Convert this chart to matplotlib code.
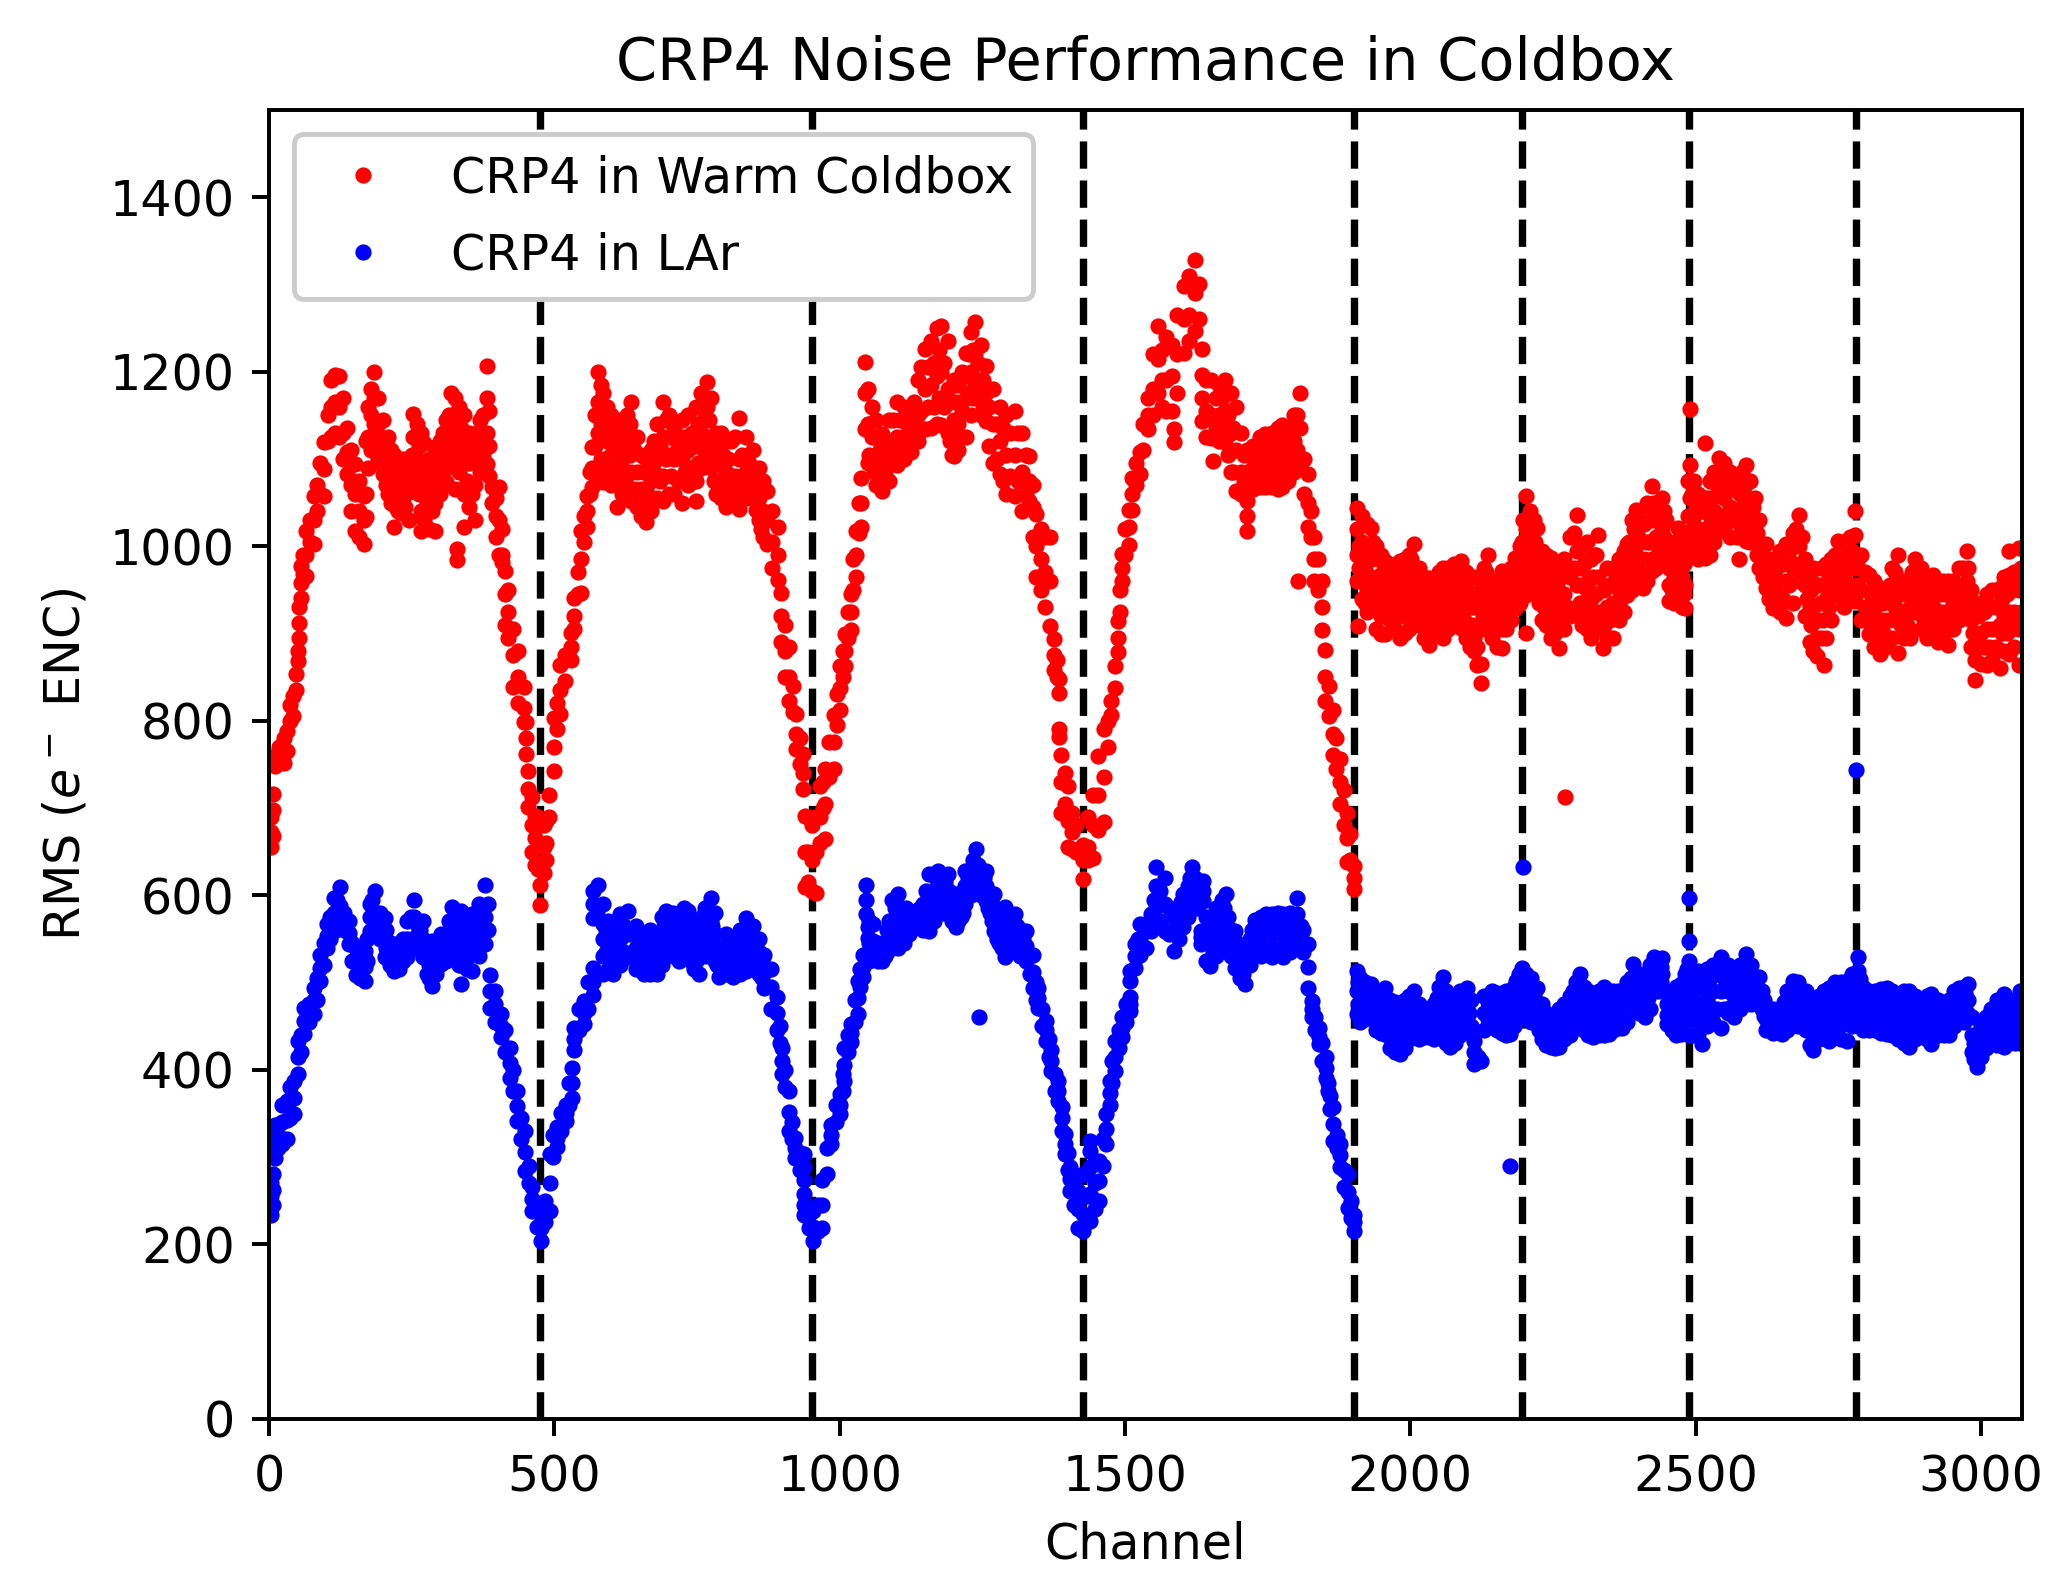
#!/usr/bin/env python3

import matplotlib
matplotlib.use('Agg')
import matplotlib.pyplot as plt

# each row: channel, then the rms values read at that channel
red_a = [
    [3,655,672,690],[7,668,698,716],[11,760,748],[18,770,752],[26,780,752],[31,788,765],[37,818,800],[42,828,805],
    [47,854,835],[50,880,868],[52,930,912,895],[56,977,958,941],[60,990,968],[65,1017,990,966],[71,1030,1005],
    [78,1058,1030,1002],[84,1070,1040],[90,1095,1060],[97,1119,1088,1058],[103,1150,1120],[109,1190,1160,1125],
    [115,1196,1165,1130],[122,1195,1160,1125],[129,1170,1130,1100],[137,1135,1108,1083],[144,1110,1070,1040],
    [150,1094,1060,1017],[158,1075,1040,1010],[166,1058,1030,1002],[170,1120,1060,1033],[174,1160,1125,1090],
    [179,1180,1150,1110],[184,1200,1170,1140,1125],[191,1170,1140,1100],[200,1145,1115,1083],[208,1125,1095,1060],
    [214,1110,1080,1050],[219,1104,1065,1022],[226,1090,1060,1040],[232,1100,1072,1038],[238,1100,1068,1045],
    [245,1095,1062,1030],[253,1152,1125,1085,1063],[260,1140,1100,1072],[266,1130,1085,1040,1017],
    [272,1118,1075,1030],[280,1100,1060,1020],[291,1114,1080,1050,1017],[300,1120,1090,1060],
    [310,1145,1115,1090,1073],[318,1175,1135,1100],[325,1170,1130,1095,1065],[333,1160,1120,1085],[329,997,984],
    [341,1150,1110,1060,1022],[350,1130,1095,1045],[360,1125,1100,1070,1030],[370,1145,1120,1085],
    [381,1206,1170,1130,1094],[386,1155,1115,1080],[391,1068,1050],[397,1055,1035,1010],[403,1068,1030,990],
    [408,1020,990,982],[413,971,945,910],[419,950,925,895],[428,905,875,839],[436,880,850,820],[447,839,815,798],
    [450,798,780,762],[454,742,722,701],[460,712,680,650],[466,691,665,635],[472,690,660,630],[475,635,612,589],
    [481,680,655,625],[485,685,660,640],[491,715,690],[500,803,770,742],[505,820,790],[510,864,835,808],
    [518,875,845],[529,900,885,870],[535,941,920,905],[541,970,945],[547,1017,985,946],[552,1035,1005],
    [557,1058,1040,1022],[562,1085,1060],[566,1114,1090,1068],[571,1150,1115,1085],[576,1200,1165,1130],
    [581,1185,1140,1100],[585,1175,1130,1073],[592,1160,1120,1080],[600,1150,1105,1070],[610,1145,1105,1073,1045],
    [618,1135,1090,1060],[628,1150,1105,1060],[635,1165,1125,1085,1052],[645,1125,1085,1045],[652,1105,1065,1035],
    [660,1100,1065,1028],[670,1110,1075,1040],[680,1140,1100,1055],[691,1165,1125,1080,1052],[700,1150,1105,1060],
    [710,1135,1100,1060],[723,1145,1100,1050],[735,1150,1110,1070],[748,1160,1115,1075,1052],[757,1175,1130,1090],
    [767,1188,1160,1125,1100],[775,1170,1125,1090],[783,1130,1095,1060],[792,1130,1095,1055],[800,1120,1085,1045],
    [810,1120,1080,1050],[823,1147,1100,1062,1043],[835,1125,1085,1055],[848,1110,1080,1055],[858,1090,1055,1030],
    [866,1075,1040,1010],[873,1063,1030,1002],[882,1040,1005,975],[892,1022,990,961],[898,946,920,890],
    [905,910,880,850],[911,884,850,823],[918,840,810],[923,808,785,767],[930,780,750],[936,762,740,722],
    [939,691,650,609],[945,690,650,615],[952,680,640,605],[958,690,650,602],[965,725,690,660],[970,730,700],
    [975,745,705,664],[982,775,735],[990,807,775,745],[995,830,795],[1000,863,838,812],[1005,880,850],
    [1009,899,880,863],[1014,925,895],[1019,945,925,904],[1024,985,950],[1028,1017,990,965],[1033,1050,1015],
    [1037,1078,1050,1022],[1044,1211,1175,1134],[1049,1180,1140,1095],[1056,1160,1125,1093],[1064,1145,1105,1070],
    [1075,1129,1095,1063],[1086,1145,1105,1075],[1100,1165,1125,1093],[1112,1160,1125,1100],[1125,1155,1130,1108],
    [1137,1190,1150,1120],[1150,1226,1180,1134],[1160,1235,1185,1135],[1170,1250,1195,1140],[1178,1252,1200,1139],
    [1189,1235,1180,1130],[1200,1190,1145,1103],[1197,1130,1105],[1208,1185,1140,1110],[1222,1221,1195,1170,1125],
    [1230,1245,1200,1150],[1238,1257,1220,1185],[1247,1230,1190,1150],[1256,1206,1175,1144],[1268,1180,1140,1095],
    [1281,1160,1120,1083],[1292,1150,1105,1060],[1307,1155,1105,1058],[1320,1130,1085,1040],[1332,1103,1075,1052],
    [1338,1070,1045,1010],[1344,1037,1000,965],[1352,1020,985,950],[1360,1010,970,930],[1369,1011,960,909],
    [1375,894,875,858],[1381,870,850],[1385,848,832],[1385,791,781],[1388,761,730,694],[1394,740,705],[1400,725,685,655],
    [1407,694,672,653],[1415,680,650],[1426,658,640,618],[1436,690,655,640],[1444,715,680,643],[1452,760,715,675],
    [1463,791,735,684],[1470,800,770],[1476,822,807],[1482,863,838],[1488,914,895,879],[1491,950,925],
    [1494,991,975,960],[1500,1020,990],[1507,1042,1022,1001],[1513,1078,1060,1042],[1520,1095,1070],
    [1526,1108,1083],[1532,1140,1110],[1541,1170,1150,1134],[1549,1220,1180,1150],[1557,1252,1215,1175],
    [1565,1225,1190,1160],[1572,1240,1190,1155],[1582,1231,1195,1155],[1586,1134,1119],[1592,1265,1220,1175],
    [1604,1298,1260,1221],[1612,1310,1265,1235],[1623,1328,1290,1247],[1630,1300,1260],[1635,1226],
    [1635,1196,1170,1144],[1642,1190,1155,1125],[1651,1190,1150,1124],[1654,1098],[1664,1185,1150,1120],
    [1676,1190,1155,1119],[1686,1175,1130,1085],[1695,1160,1110,1063],[1704,1130,1085,1060],[1713,1110,1085,1063],
    [1713,1052,1035,1017],[1725,1115,1090,1065],[1736,1125,1095,1068],[1745,1129,1100,1068],[1757,1130,1100,1068],
    [1768,1135,1100,1065],[1776,1139,1105,1068],[1786,1130,1100,1075],[1796,1150,1120,1085],[1807,1175,1135,1093],
    [1804,960],[1814,1100,1060],[1820,1083,1050,1022],[1826,1040,1010],[1832,1011,985,960],[1839,985,950],
    [1845,960,930,904],[1851,881,850,822],[1858,840,805],[1864,812,785,761],[1870,780,745],[1876,756,730,705],
    [1883,720,680],[1889,694,665,638],[1895,670,640],[1901,633,620,607],
]
red_b = [
    [1906,1044,1020,990,960],[1908,908],[1916,1035,1005,970,940],[1924,1025,990,950,925],[1931,1021,985,960,929],
    [1940,1000,965,930,905],[1948,990,955,920,899],[1955,983,950,920,899],[1964,975,945,915],[1973,980,945,905],
    [1982,983,950,920,895],[1990,985,955,925,900],[1998,990,960,925,905],[2006,1002,965,935,914],[2015,975,945,910],
    [2024,965,935,895],[2033,964,930,905,887],[2042,960,930,900],[2050,970,935,900],[2057,975,945,915,895],
    [2066,975,940,905],[2076,980,945,910],[2089,983,950,925,906],[2098,970,935,895],[2105,965,930,885],
    [2112,965,930,895,880],[2117,864,885],[2124,843,865],[2130,975,940,905],[2136,990,950,915,906],[2144,960,930,895],
    [2152,960,925,885],[2160,971,935,905,883],[2168,965,935,905],[2176,975,945,915],[2183,987,955,929],
    [2192,1000,965,935],[2198,1030,985,945],[2203,1057,1020,980,944],[2203,901],[2209,1040,990,950],
    [2216,1030,985,950],[2222,1021,985,948],[2230,995,955,915],[2238,990,950,910],[2246,987,945,905,895],
    [2254,980,940,900],[2261,975,935,905,883],[2270,985,945,905],[2280,1010,965,920],[2293,1036,995,955,922],
    [2301,1000,955,910],[2309,1005,950,905],[2316,985,940,895],[2323,990,945,905],[2329,1013,965,925,914],
    [2337,883,905],[2345,975,930,895],[2356,975,935,895],[2366,985,950,915],[2374,995,960,925],[2380,1002,975,944],
    [2388,1030,985,950],[2395,1042,1000,960],[2403,1030,985,955],[2407,952],[2415,1050,1005,960],[2423,1069,1030,985,971],
    [2431,1050,1010,975],[2442,1055,1020,987],[2448,1030,1000],[2454,975,955,937],[2462,1005,965,935],
    [2470,1021,975,941],[2476,1005,965,930],[2482,983,955,929],[2491,1157],[2491,1093,1055,1017],[2497,1075,1035,995],
    [2505,1060,1020,985],[2517,1118],[2517,1055,1020,987],[2525,1075,1035,990],[2533,1085,1040,1005],
    [2541,1101,1060,1017],[2550,1095,1055,1020],[2561,1085,1045,1010],[2572,1075,1040,1010],[2576,985],
    [2582,1085,1045,1015],[2588,1093,1050,1006],[2596,1075,1035,1005],[2604,1055,1030,1006],[2612,1030,1000,975],
    [2623,1002,975,952],[2635,985,955,929],[2648,995,960,925],[2659,1002,960,918],[2670,1015,975,935],
    [2682,1036,1000,960],[2692,985,955,920],[2700,965,930,890],[2706,975,930,880],[2712,874,895],[2720,975,935,895],
    [2725,864],[2729,980,940,895],[2738,985,950,915],[2749,1006,975,944],[2760,1005,965,930],[2770,1010,975,940],
    [2780,1040],[2780,1013,975,937],[2790,990,950,915],[2804,967,930,899],[2813,960,925,885],[2823,952,915,876],
    [2834,950,915,885],[2845,975,935,895],[2855,990,950,914],[2855,878],[2866,960,925,895],[2875,960,930,895],
    [2885,985,955,925],[2895,975,940,905],[2905,965,930,895],[2916,967,930,895],[2925,960,925,890],[2934,960,925,895],
    [2943,960,925,887],[2952,960,935,905],[2962,975,945,915],[2975,994,960,929],[2982,950,915,885],[2990,935,900,870],
    [2990,847],[3000,935,900,865],[3010,945,905,864],[3020,950,905,870],[3033,952,910,860],[3041,965,920,880],
    [3049,994],[3049,967,925,876],[3058,970,925,885],[3066,998,950,905,864],
]
red_fill = [
    [194,1125,1095],[205,1100,1070],[222,1085,1045],[235,1085,1055],[250,1105,1075],[263,1115,1060],[276,1095,1050],
    [286,1095,1040],[296,1105,1070],[305,1130,1100],[315,1150,1115],[322,1150,1110],[337,1135,1095],[346,1115,1075],
    [355,1110,1060],[365,1130,1100],[375,1150,1105],[588,1150,1100],[596,1135,1090],[605,1125,1085],[614,1115,1075],
    [623,1120,1075],[632,1140,1105],[640,1110,1065],[656,1085,1050],[665,1090,1055],[675,1120,1085],[685,1115,1075],
    [696,1145,1100],[705,1125,1080],[716,1115,1075],[729,1125,1085],[741,1130,1090],[752,1140,1095],[762,1145,1110],
    [771,1145,1105],[779,1110,1075],[788,1115,1075],[796,1105,1070],[805,1100,1065],[816,1125,1080],[829,1105,1070],
    [841,1095,1065],[853,1070,1042],[862,1060,1020],[1052,1140,1105],[1060,1125,1085],[1070,1110,1080],[1080,1120,1085],
    [1093,1145,1110],[1106,1145,1110],[1118,1140,1115],[1131,1165,1135],[1143,1205,1155],[1155,1205,1160],
    [1165,1210,1160],[1174,1225,1170],[1183,1210,1160],[1194,1165,1120],[1204,1165,1125],[1215,1200,1155],
    [1226,1220,1175],[1234,1225,1170],[1243,1210,1170],[1252,1190,1160],[1262,1160,1115],[1275,1140,1100],
    [1287,1135,1075],[1299,1130,1080],[1313,1130,1075],[1326,1105,1060],[1660,1170,1135],[1670,1170,1135],
    [1681,1150,1105],[1690,1135,1085],[1708,1105,1075],[1719,1105,1075],[1730,1110,1080],[1741,1115,1085],
    [1751,1115,1085],[1762,1115,1082],[1772,1120,1085],[1781,1120,1085],[1791,1135,1105],[1801,1150,1110],
    [1911,1000,975],[1920,975,935],[1935,1005,945],[1944,985,945],[1952,970,935],[1960,960,930],[1969,960,925],
    [1978,965,935],[1986,970,935],[1994,975,940],[2002,985,950],[2011,960,925],[2020,950,915],[2029,945,915],
    [2038,945,915],[2046,950,915],[2054,960,930],[2062,960,920],[2071,960,925],[2083,965,930],[2094,955,915],
    [2102,950,905],[2109,945,910],[2127,955,920],[2133,970,930],[2140,945,910],[2148,945,905],[2156,950,920],
    [2164,955,920],[2172,960,925],[2180,970,940],[2188,985,950],[2195,1005,965],[2206,1005,965],[2212,1015,970],
    [2219,1005,965],[2226,975,935],[2234,970,930],[2242,965,925],[2250,960,920],[2258,955,920],[2265,965,925],
    [2275,975,930],[2287,1015,975],[2297,975,935],[2305,980,930],[2312,960,920],[2320,965,925],[2326,990,945],
    [2340,950,910],[2350,955,915],[2361,965,930],[2370,975,940],[2377,985,950],[2384,1005,965],[2392,1020,975],
    [2399,1010,970],[2410,1025,985],[2419,1045,1005],[2427,1050,1005],[2436,1035,995],[2445,1040,1010],[2458,985,950],
    [2466,990,950],[2473,1000,955],[2479,980,945],[2487,1075,1035,1000],[2494,1060,1015],[2501,1045,1000],
    [2511,1040,1005],[2521,1055,1010],[2529,1055,1015],[2537,1070,1025],[2546,1080,1035],[2555,1070,1030],
    [2566,1065,1030],[2577,1060,1025],[2586,1070,1030],[2592,1055,1015],[2600,1045,1020],[2608,1015,990],[2618,990,965],
    [2629,970,940],[2641,975,945],[2654,980,940],[2664,995,955],[2676,1020,980],[2687,1010,975],[2696,970,940],
    [2703,950,910],[2715,955,915],[2723,955,915],[2734,965,930],[2744,990,960],[2754,985,950],[2765,990,950],
    [2775,995,955],[2785,985,955],[2797,970,930],[2808,945,910],[2818,935,895],[2829,935,900],[2840,955,915],
    [2850,970,930],[2860,945,910],[2870,945,910],[2880,970,940],[2890,960,925],[2900,950,915],[2910,950,915],
    [2920,945,910],[2929,945,910],[2938,945,910],[2947,945,915],[2957,950,920],[2968,975,945],[2978,975,940],
    [2986,930,900],[2995,920,885],[3005,925,885],[3015,930,885],[3026,930,885],[3037,940,900],[3045,945,900],
    [3054,950,905],[3062,960,915],[3070,975,925],
]
red_odd = [[2272, 712]]

blue_a = [
    [3,234,255,270],[7,245,262,280],[11,299,315,337],[15,310,325,337],[22,315,340,360],[31,320,342,364],[37,345,365,380],
    [43,349,368,387],[50,395,414,433],[56,420,440],[62,441,456,471],[70,455,475],[78,464,480,494],[84,480,505],
    [90,502,517,532],[96,520,545],[101,540,553,567],[107,550,575],[113,559,580,597],[119,565,595],[125,563,588,609],
    [132,560,580],[140,544,557,570],[146,525,545],[152,509,525,540],[160,505,525],[168,502,518,536],[172,525,550],
    [176,559,575,590],[181,560,595],[186,559,580,605],[194,550,580],[203,529,552,574],[211,520,545],
    [219,513,528,544],[228,515,540],[235,525,550],[242,529,550,570],[248,545,575],[254,551,575,595],[261,540,565],
    [269,529,550,570],[277,510,535],[285,496,522,548],[293,510,535],[301,521,538,555],[310,525,555],
    [320,536,560,586],[328,530,565],[336,498,520,545,582],[346,515,545,575],[355,513,545,578],[367,530,565,590],
    [379,544,575,612],[383,560,590],[387,471,490,508],[396,455,475,490],[406,437,450,464],[414,420,445],
    [422,391,408,425],[428,375,400],[434,341,358,376],[441,320,345],[449,284,306,330],[455,270,290],[461,238,252,265],
    [469,220,245],[477,204,218,234],[484,225,250],[492,238,270,303],[498,300,325],[504,311,322,334],[512,330,350],
    [520,341,350,360],[526,360,385],[531,368,385,402],[535,422,435,448],[543,445,470],[551,452,465,479],
    [559,470,500],[567,486,500,517],[567,574,590,605],[577,585,612],[586,570,590],[586,510,530,550,567],
    [594,515,545,570],[602,510,540,567],[615,520,550,578],[629,529,555,582],[643,515,540,565],[657,510,532,555],
    [668,510,535,560],[680,510,535,555],[688,520,555,575],[696,532,555,582],[707,530,560,580],[719,525,555,580],
    [727,530,560,585],[735,530,560,582],[745,515,545,570],[754,510,535,555],[764,530,560,585],[774,540,570,597],
    [781,525,555,580],[789,506,525,540],[800,510,530,555],[813,506,525,545],[825,510,535,560],[836,513,545,574],
    [848,520,545,565],[858,510,535,550],[868,494,512,532],[880,470,495,515],[891,445,465,483],[895,430,450],
    [899,395,410,425],[905,380,400],[911,330,352,376],[917,320,340],[922,299,310,322],[930,285,305],
    [938,273,288,303],[938,234,245,257],[946,218,240],[954,204,220,238],[962,215,245],[969,219,245,273],
    [977,280,310],[985,315,325,337],[993,340,360],[1001,349,360,372],[1005,375,395],[1008,387,405,425],
    [1014,420,440],[1020,432,442,452],[1026,455,480],[1032,464,482,502],[1036,495,515],[1040,506,518,532],
    [1046,578,595,612],[1050,551,563],[1052,525,545,570],[1059,529,548,567],[1067,525,545],[1075,525,535,544],
    [1083,535,560],[1092,540,570,595],[1102,540,570,601],[1112,545,575],[1122,555,575],[1134,563,572,582],
    [1146,560,590],[1157,559,590,624],[1165,570,605],[1173,590,610,628],[1181,580,610],[1189,582,603,624],
    [1196,570,595],[1204,563,582,601],[1212,575,600],[1220,590,610,628],[1230,600,625],[1239,605,628,653],
    [1248,600,625],[1257,593,610,628],[1244,460],[1263,580,600],[1270,559,580,601],[1280,545,570],[1289,529,558,586],
    [1298,535,560],[1307,540,560,578],[1316,530,555],[1326,525,542,559],[1333,510,530],[1339,494,512,532],
    [1344,480,500],[1348,471,482,494],[1355,450,470],[1361,433,445,456],[1366,415,435],[1370,399,410,422],
    [1377,375,395],[1383,364,375,387],[1389,330,345,357],[1395,303,315,326],[1400,285,305],[1404,261,275,288],
    [1410,245,270],[1417,219,240,261],[1426,215,235,255,280],[1433,225,255,280],[1439,307,318],[1439,227,258,288],
    [1447,240,270,295],[1455,250,272,295],[1461,290,320],[1467,315,332,349],[1473,360,373,387],[1478,385,410],
    [1483,399,415,433],[1489,425,445],[1495,437,448,460],[1501,455,475],[1508,467,475,483],[1508,502,513],
    [1517,517,530,544],[1522,530,550],[1527,532,550,567],[1536,540,565],[1545,559,570,578],[1550,575,595],
    [1555,586,610,632],[1562,570,605],[1570,559,590,620],[1578,555,585],[1586,536,555,574],[1594,550,585],
    [1602,563,582,601],[1610,575,610],[1617,586,610,632],[1626,585,610],[1636,593,605,616],[1633,544,552,559],
    [1642,525,550,575],[1649,519,545,574],[1660,530,560,585],[1670,545,575,595],[1677,551,575,601],[1685,530,560],
    [1692,517,540,559],[1702,505,530],[1711,498,520,544],[1719,520,550],[1727,532,550,571],[1738,530,555,575],
    [1748,535,560,578],[1758,529,555,578],[1768,535,560,580],[1777,529,555,578],[1790,535,560,580],[1802,597],
    [1802,544,560,578],[1812,535,560],[1821,494,518,544],[1827,460,470,479],[1833,445,460],[1840,429,438,448],
    [1846,410,430],[1852,391,402,414],[1855,375,385],[1860,355,370],[1865,318,338,357],[1871,310,325],[1877,288,302,315],
    [1884,265,285],[1890,242,260,280],[1896,230,250],[1902,215,225,234],
]
blue_b = [
    [1906,513,490,464],[1912,505,478,455],[1920,500,475,458],[1931,498,478,460],[1940,490,465,445],[1948,488,460,442],
    [1955,494,465,441],[1964,480,450,425],[1973,478,445,420],[1982,475,445,418],[1990,480,455,425],[1998,485,460,435],
    [2006,490,465,441],[2015,475,455,435],[2024,470,450,438],[2033,468,452,437],[2042,475,450,435],[2050,495,470,445],
    [2057,506,485,468],[2063,490,465,430],[2069,483,455,426],[2078,480,455,430],[2088,490,465,440],[2100,494,470,448],
    [2106,480,450],[2112,433,420,406],[2119,415],[2124,410],[2130,485,465,445],[2144,490,470,452],[2152,488,465,445],
    [2160,488,465,442],[2168,490,462,440],[2175,490,465,441],[2182,495,470,450],[2190,510,480,460],[2195,517,490,460],
    [2203,510,480,460],[2212,505,475,455],[2222,494,475,460],[2230,475,455,435],[2238,465,445,428],[2246,456,440,426],
    [2254,460,440,425],[2261,470,445,426],[2270,475,455,435],[2280,485,460,440],[2290,500,475,450],[2297,510,480,448],
    [2305,495,470,445],[2312,490,465,440],[2320,487,460,437],[2330,490,465,440],[2340,495,470,440],[2348,490,465,441],
    [2356,490,470,445],[2364,490,470,448],[2371,487,465,448],[2380,500,480,455],[2391,521,495,475],[2400,510,485,465],
    [2411,502,480,460],[2420,520,495,470],[2427,529,510,494],[2435,525,505,490],[2442,528,510,494],[2450,475,463,452],
    [2458,490,465,445],[2466,495,470,440],[2474,498,470,441],[2482,510,475,445],[2488,548,525,502],[2488,440],
    [2497,510,475,440],[2505,513,475,441],[2511,429,450],[2520,515,480,450],[2530,520,490,455],[2545,529,490,448],
    [2556,520,490,465],[2568,510,485,460],[2578,520,490,470],[2588,533,505,475],[2597,520,495,475],[2611,506,490,475],
    [2617,490,470],[2623,471,458,445],[2636,470,455,442],[2651,471,455,441],[2660,490,465,445],[2670,502,480,456],
    [2680,500,475,450],[2694,490,465,445],[2700,465,445,428],[2706,441,430,422],[2716,485,460,435],[2725,490,465,440],
    [2733,494,465,433],[2745,500,470,438],[2755,500,470,435],[2765,502,470,433],[2775,510,480,450],[2784,529],
    [2784,513,485,456],[2794,495,470,445],[2804,490,465,445],[2815,490,465,445],[2825,492,468,442],[2835,494,468,441],
    [2845,490,465,440],[2855,485,460,435],[2865,490,460,430],[2874,490,455,426],[2885,485,460,435],[2895,480,460,440],
    [2905,485,460,435],[2913,487,455,429],[2925,480,455,440],[2935,475,455,440],[2945,480,460,440],[2953,490,470,450],
    [2961,494,475,456],[2970,495,475,455],[2977,498,480,464],[2984,460,440,420],[2993,441,420,403],[3001,450,430,415],
    [3009,460,440,425],[3018,470,445,430],[3028,480,450,428],[3040,487,455,426],[3050,475,450,430],[3060,480,455,430],
    [3068,490,460,430],
]
blue_fill = [
    [160,515],[195,565],[205,560,540],[222,535,520],[238,540],[265,560,540],[281,520,505],[297,530,520],[305,540],
    [315,545,570],[325,575,545],[332,555,520],[341,530,560],[350,530,560],[361,540,570],[373,555,585],
    [590,535,560],[598,525,555],[608,530,560],[622,535,565],[636,530,555],[650,525,545],[662,520,545],[674,520,548],
    [684,525,545],[692,535,565],[701,545,570],[713,540,570],[723,540,570],[731,545,572],[740,525,555],[749,525,550],
    [759,545,575],[769,550,580],[777,535,565],[785,520,535],[795,520,540],[806,515,535],[819,520,540],[830,525,550],
    [842,530,555],[853,520,540],[863,505,525],[1063,535],[1079,540,530],[1087,545,570],[1097,555,585],[1107,555,585],
    [1117,560,585],[1128,565,578],[1140,565,585],[1151,575,605],[1161,580,600],[1169,600,620],[1177,595,620],
    [1185,590,615],[1192,580,605],[1200,575,595],[1208,570,590],[1216,580,605],[1225,600,620],[1234,610,640],
    [1243,610,635],[1253,600,620],[1260,585,605],[1267,570,590],[1275,550,575],[1284,540,570],[1293,545,570],
    [1302,545,570],[1311,535,565],[1321,530,550],[1590,560,575],[1598,570,592],[1606,575,595],[1614,590,620],
    [1622,595,620],[1655,535,565],[1665,540,570],[1674,560,585],[1681,545,575],[1688,530,555],[1697,515,545],
    [1707,510,535],[1715,525,545],[1723,530,560],[1733,535,565],[1743,540,565],[1753,540,570],[1763,540,570],
    [1773,540,570],[1784,545,570],[1796,545,570],[1808,540,565],
    [1909,500,475],[1916,490,465],[1926,488,468],[1936,485,470],[1944,475,455],[1952,478,452],[1960,470,440],
    [1969,462,432],[1978,460,430],[1986,462,435],[1994,470,445],[2002,478,452],[2011,465,445],[2020,460,445],
    [2029,460,445],[2038,462,443],[2046,482,460],[2054,495,475],[2060,478,450],[2066,470,440],[2074,468,442],
    [2083,478,452],[2094,482,458],[2103,465,445],[2137,478,458],[2148,480,460],[2156,476,455],[2164,478,452],
    [2172,478,452],[2179,480,458],[2186,502,465],[2192,505,472],[2199,498,470],[2208,492,468],[2217,485,465],
    [2226,465,445],[2234,458,438],[2242,448,432],[2250,450,432],[2258,458,435],[2266,465,445],[2275,470,448],
    [2285,490,468],[2294,495,465],[2301,485,458],[2309,480,452],[2316,475,450],[2325,478,452],[2335,480,455],
    [2344,480,455],[2352,480,458],[2360,480,458],[2368,478,458],[2376,490,468],[2386,505,485],[2396,498,478],
    [2406,490,470],[2416,508,482],[2424,520,502],[2431,515,498],[2439,518,500],[2454,478,455],[2462,480,455],
    [2470,484,455],[2478,492,460],[2485,515,490],[2493,492,458],[2501,492,458],[2508,495,460],[2515,498,465],
    [2525,505,472],[2537,510,470],[2550,505,470],[2562,498,472],[2573,505,478],[2583,518,490],[2592,512,485],
    [2604,498,482],[2620,480,462],[2630,462,448],[2643,462,448],[2655,478,448],[2665,490,468],[2675,490,462],
    [2687,478,455],[2697,475,452],[2711,472,445],[2720,475,450],[2729,480,450],[2739,482,452],[2750,485,455],
    [2760,485,452],[2770,492,462],[2780,498,470],[2789,504,478],[2799,480,455],[2810,478,455],[2820,480,455],
    [2830,480,455],[2840,478,452],[2850,472,448],[2860,475,445],[2870,472,442],[2880,472,448],[2890,470,450],
    [2900,472,448],[2909,470,442],[2919,468,447],[2930,465,447],[2940,470,450],[2949,480,458],[2957,484,465],
    [2966,485,465],[2973,488,470],[2988,430,412],[2997,440,422],[3005,450,432],[3014,458,438],[3023,465,438],
    [3034,470,440],[3045,465,440],[3055,468,442],[3064,475,445],
]
blue_odd = [[2198, 632], [2488, 597], [2781, 744], [2174, 290]]

vlines = [475, 951, 1426, 1902, 2195, 2488, 2781]
yticks = [0, 200, 400, 600, 800, 1000, 1200, 1400]


def flatten(rows):
    chans = []
    rms = []
    for row in rows:
        for val in row[1:]:
            chans.append(row[0])
            rms.append(val)
    return chans, rms


fig = plt.figure(figsize=(2059/354, 1586/354), dpi=354)
ax = fig.add_axes([0.1307, 0.1055, 0.8513, 0.8252])

for v in vlines:
    ax.axvline(v, color='k', linestyle='--', zorder=1)

rx, ry = flatten(red_a + red_b + red_fill + red_odd)
bx, by = flatten(blue_a + blue_b + blue_fill + blue_odd)
ax.plot(rx, ry, '.', color='r', ms=4.6, label='CRP4 in Warm Coldbox', zorder=2)
ax.plot(bx, by, '.', color='b', ms=4.6, label='CRP4 in LAr', zorder=2)

ax.set_xlim(0, 3072)
ax.set_ylim(0, 1500)
ax.set_yticks(yticks)
ax.set_xlabel('Channel')
ax.set_ylabel('RMS ($e^-$ ENC)')
ax.set_title('CRP4 Noise Performance in Coldbox')
ax.legend(loc='upper left', framealpha=1, labelspacing=0.6)

fig.savefig('out.png', dpi=354)
